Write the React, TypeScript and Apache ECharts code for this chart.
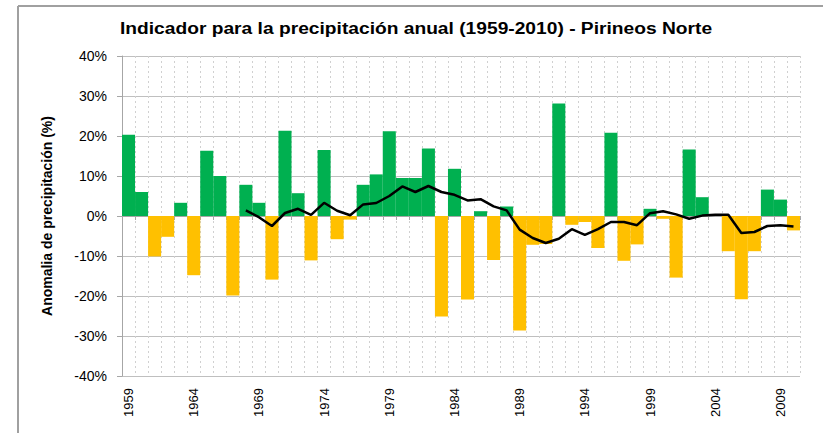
import React, { useEffect, useRef } from "react";
import * as echarts from "echarts";

const years: string[] = [];
for (let y = 1959; y <= 2010; y++) years.push(String(y));

const anomalies: number[] = [
  20.3, 6.0, -10.1, -5.2, 3.3, -14.8, 16.3, 10.0, -19.9, 7.8,
  3.3, -15.9, 21.3, 5.7, -11.1, 16.5, -5.8, -0.9, 7.8, 10.4,
  21.2, 9.5, 9.5, 16.9, -25.1, 11.8, -20.9, 1.2, -11.0, 2.4,
  -28.6, -7.2, -7.0, 28.1, -2.2, -1.5, -8.0, 20.8, -11.2, -7.1,
  1.8, -0.7, -15.4, 16.6, 4.7, 0, -8.8, -20.8, -8.8, 6.6,
  4.1, -3.6,
];

const movingAvg: (number | null)[] = [
  null, null, null, null, null, null, null, null, null,
  1.4, -0.3, -2.5, 0.75, 1.8, 0.3, 3.3, 1.3, 0.2, 2.9, 3.25,
  5.0, 7.4, 6.0, 7.5, 6.0, 5.3, 3.9, 4.2, 2.4, 1.4,
  -3.4, -5.5, -6.75, -5.7, -3.3, -4.7, -3.3, -1.5, -1.5, -2.3,
  0.7, 1.2, 0.4, -0.7, 0.1, 0.3, 0.3, -4.25, -4.0, -2.5,
  -2.3, -2.6,
];

const titleText = "Indicador para la precipitación anual (1959-2010) - Pirineos Norte";
const yAxisName = "Anomalia de precipitación (%)";
const FONT = "Arial, 'Liberation Sans', sans-serif";

export default function App() {
  const ref = useRef<HTMLDivElement>(null);
  useEffect(() => {
    document.body.style.margin = "0";
    if (!ref.current) return;
    const chart = echarts.init(ref.current, null, { renderer: "svg" });
    chart.setOption({
      animation: false,
      backgroundColor: "#ffffff",
      graphic: [
        { type: "line", shape: { x1: 18, y1: 6, x2: 823, y2: 6 }, style: { stroke: "#a0a0a0", lineWidth: 2 } },
        { type: "line", shape: { x1: 18, y1: 6, x2: 18, y2: 433 }, style: { stroke: "#a0a0a0", lineWidth: 2 } },
        {
          type: "text",
          x: 120,
          y: 28.5,
          scaleX: 1.13,
          style: {
            text: titleText,
            fontFamily: FONT,
            fontSize: 17,
            fontWeight: "bold",
            fill: "#000",
            align: "left",
            verticalAlign: "middle",
          },
        },
        {
          type: "text",
          x: 47,
          y: 216,
          rotation: Math.PI / 2,
          style: {
            text: yAxisName,
            fontFamily: FONT,
            fontSize: 14,
            fontWeight: "bold",
            fill: "#000",
            align: "center",
            verticalAlign: "middle",
          },
        },
      ],
      grid: { left: 122, right: 23, top: 56, bottom: 57, containLabel: false },
      xAxis: {
        type: "category",
        data: years,
        boundaryGap: true,
        axisLine: { lineStyle: { color: "#a6a6a6" } },
        axisTick: { show: true, interval: 0, length: 4, lineStyle: { color: "#a6a6a6" } },
        axisLabel: {
          interval: 4,
          rotate: 90,
          margin: 12,
          fontFamily: FONT,
          fontSize: 13,
          color: "#000",
        },
        splitLine: { show: true, interval: 0, lineStyle: { color: "#d0d0d0", type: [2, 3] } },
      },
      yAxis: {
        type: "value",
        min: -40,
        max: 40,
        interval: 10,
        axisLine: { show: true, lineStyle: { color: "#a6a6a6" } },
        axisTick: { show: true, length: 5, lineStyle: { color: "#a6a6a6" } },
        axisLabel: {
          formatter: (v: number) => `${v}%`,
          margin: 15,
          fontFamily: FONT,
          fontSize: 14,
          color: "#000",
        },
        splitLine: { show: true, lineStyle: { color: "#bfbfbf", width: 1 } },
      },
      series: [
        {
          type: "bar",
          data: anomalies.map((v) => ({
            value: v,
            itemStyle: { color: v >= 0 ? "#00B050" : "#FFC000" },
          })),
          barCategoryGap: "0%",
          barGap: "0%",
          z: 2,
        },
        {
          type: "line",
          data: movingAvg,
          symbol: "none",
          connectNulls: false,
          lineStyle: { color: "#000", width: 2.5 },
          z: 3,
        },
      ],
    });
    return () => chart.dispose();
  }, []);
  return <div ref={ref} style={{ width: 823, height: 433 }} />;
}
